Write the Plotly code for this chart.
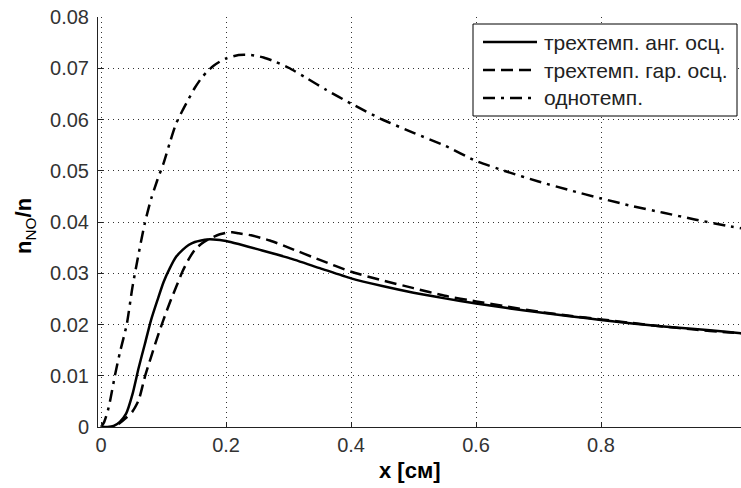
import plotly.graph_objects as go

# ---- data ----
x_ang = [0, 0.01, 0.02, 0.03, 0.04, 0.05, 0.06, 0.07, 0.08, 0.09, 0.10, 0.11, 0.12, 0.13, 0.14,
         0.15, 0.16, 0.17, 0.18, 0.19, 0.20, 0.22, 0.25, 0.30, 0.35, 0.40, 0.45, 0.50, 0.55,
         0.60, 0.65, 0.70, 0.75, 0.80, 0.85, 0.90, 0.95, 1.0, 1.024]
y_ang = [0, 0, 0.0002, 0.0010, 0.0026, 0.0063, 0.0115, 0.0162, 0.0209, 0.0247, 0.0283, 0.0310,
         0.0332, 0.0345, 0.0355, 0.0361, 0.0364, 0.0366, 0.0366, 0.0365, 0.0363, 0.0357, 0.0347,
         0.0330, 0.0310, 0.0290, 0.0275, 0.0262, 0.0251, 0.0241, 0.0232, 0.0224, 0.0216, 0.0209,
         0.0202, 0.0196, 0.0191, 0.0186, 0.0183]

x_gar = [0, 0.02, 0.03, 0.04, 0.05, 0.06, 0.07, 0.08, 0.09, 0.10, 0.11, 0.12, 0.13, 0.14, 0.15,
         0.16, 0.17, 0.18, 0.19, 0.20, 0.21, 0.22, 0.24, 0.27, 0.30, 0.35, 0.40, 0.45, 0.50, 0.55,
         0.60, 0.65, 0.70, 0.75, 0.80, 0.85, 0.90, 0.95, 1.0, 1.024]
y_gar = [0, 0, 0.0008, 0.0018, 0.0030, 0.0052, 0.0098, 0.0137, 0.0175, 0.0210, 0.0243, 0.0273,
         0.0303, 0.0327, 0.0346, 0.0357, 0.0365, 0.0371, 0.0376, 0.0379, 0.0380, 0.0378, 0.0374,
         0.0364, 0.0350, 0.0326, 0.0303, 0.0286, 0.0271, 0.0256, 0.0245, 0.0235, 0.0225, 0.0217,
         0.0210, 0.0203, 0.0196, 0.0190, 0.0185, 0.0183]

x_one = [0, 0.005, 0.011, 0.015, 0.022, 0.03, 0.041, 0.05, 0.06, 0.07, 0.08, 0.09, 0.10, 0.11, 0.12,
         0.13, 0.14, 0.15, 0.16, 0.17, 0.18, 0.19, 0.20, 0.22, 0.24, 0.26, 0.28, 0.30, 0.33, 0.36,
         0.40, 0.45, 0.50, 0.55, 0.60, 0.65, 0.70, 0.75, 0.80, 0.85, 0.90, 0.95, 1.0, 1.024]
y_one = [0, 0.0010, 0.0033, 0.0055, 0.0100, 0.0145, 0.0200, 0.0272, 0.0338, 0.0398, 0.0445,
         0.0482, 0.0515, 0.0555, 0.0592, 0.0617, 0.0640, 0.0662, 0.0680, 0.0694, 0.0705, 0.0713,
         0.0719, 0.0726, 0.0726, 0.0721, 0.0712, 0.0701, 0.0680, 0.0658, 0.0631, 0.0600, 0.0574,
         0.0549, 0.0519, 0.0498, 0.0479, 0.0462, 0.0446, 0.0431, 0.0418, 0.0405, 0.0393, 0.0388]

series_names = ["трехтемп. анг. осц.", "трехтемп. гар. осц.", "однотемп."]
series_dash = ["solid", "12px,6px", "12px,6px,3px,6px"]

x_ticks = [0, 0.2, 0.4, 0.6, 0.8]
x_ticklabels = ["0", "0.2", "0.4", "0.6", "0.8"]
y_ticks = [0, 0.01, 0.02, 0.03, 0.04, 0.05, 0.06, 0.07, 0.08]
y_ticklabels = ["0", "0.01", "0.02", "0.03", "0.04", "0.05", "0.06", "0.07", "0.08"]

FONT = "Liberation Sans, Arial, sans-serif"

fig = go.Figure()
for xs, ys, name, dash in zip([x_ang, x_gar, x_one], [y_ang, y_gar, y_one], series_names, series_dash):
    fig.add_trace(go.Scatter(x=xs, y=ys, mode="lines", name=name, showlegend=False,
                             line=dict(color="black", width=2.5, dash=dash, shape="spline", smoothing=0.6)))

W, H = 741, 488
L, R, T, B = 98, 0, 17, 61
pw, ph = W - L - R, H - T - B

def px(xp):
    return (xp - L) / pw

def py(yp):
    return (H - B - yp) / ph

# manual legend box
fig.add_shape(type="rect", xref="paper", yref="paper", x0=px(473), x1=px(737), y0=py(116), y1=py(24),
              line=dict(color="black", width=1), fillcolor="white", layer="above")
for i, (name, dash) in enumerate(zip(series_names, series_dash)):
    yy = py(42 + 28 * i)
    fig.add_shape(type="line", xref="paper", yref="paper", x0=px(483), x1=px(537), y0=yy, y1=yy,
                  line=dict(color="black", width=2.5, dash=dash), layer="above")
    fig.add_annotation(text=name, xref="paper", yref="paper", x=px(542), y=yy, xanchor="left",
                       yanchor="middle", showarrow=False, font=dict(family=FONT, size=21, color="#222"))

fig.add_annotation(text="<b>x [см]</b>", xref="paper", yref="paper", x=px(410), y=py(470),
                   xanchor="center", yanchor="middle", showarrow=False,
                   font=dict(family=FONT, size=22, color="black"))
fig.add_annotation(text="<b>n</b><sub>NO</sub><b>/n</b>", xref="paper", yref="paper", x=px(25), y=py(226),
                   xanchor="center", yanchor="middle", showarrow=False, textangle=-90,
                   font=dict(family=FONT, size=22, color="black"))

fig.update_layout(
    width=W, height=H,
    margin=dict(l=L, r=R, t=T, b=B),
    plot_bgcolor="white", paper_bgcolor="white",
    showlegend=False,
    xaxis=dict(range=[-0.005, 1.024], tickvals=x_ticks, ticktext=x_ticklabels,
               showgrid=True, gridcolor="#333", gridwidth=1, griddash="1px,4px",
               zeroline=False, showline=True, linecolor="#222", linewidth=1,
               ticks="inside", ticklen=5, tickcolor="#222",
               tickfont=dict(family=FONT, size=20, color="#333")),
    yaxis=dict(range=[0, 0.08], tickvals=y_ticks, ticktext=y_ticklabels,
               showgrid=True, gridcolor="#333", gridwidth=1, griddash="1px,4px",
               zeroline=False, showline=True, linecolor="#222", linewidth=1,
               ticks="inside", ticklen=5, tickcolor="#222", ticklabelstandoff=4,
               tickfont=dict(family=FONT, size=20, color="#333")),
)

fig.write_html("out.html", config={"displayModeBar": False},
               post_script="document.body.style.margin='0px';document.body.style.overflow='hidden';")
